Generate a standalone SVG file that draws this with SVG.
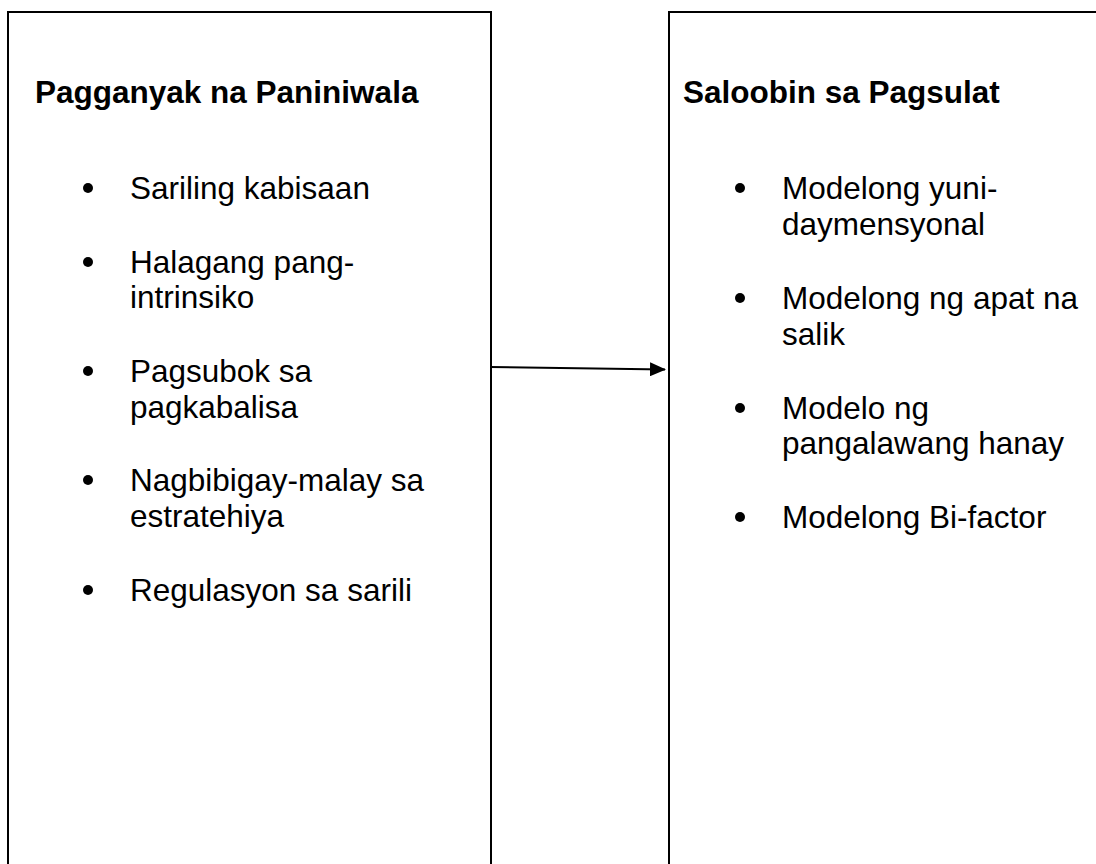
<svg xmlns="http://www.w3.org/2000/svg" width="1096" height="864" viewBox="0 0 1096 864">
<style>
.box{fill:#fff;stroke:#000;stroke-width:2}
.t{font-family:"Liberation Sans",Arial,sans-serif;font-size:31.5px;fill:#000}
.h{font-weight:bold}
.conn{stroke:#000;stroke-width:2;fill:none}
</style>
<defs>
<marker id="arr" markerWidth="16" markerHeight="14" refX="15" refY="7" orient="auto" markerUnits="userSpaceOnUse">
<path d="M0,0 L16,7 L0,14 Z" fill="#000"/>
</marker>
</defs>
<rect width="1096" height="864" fill="#fff"/>
<g id="node-left">
<rect class="box" x="8" y="12" width="483" height="870"/>
<text class="t h" x="35" y="103">Pagganyak na Paniniwala</text>
<g class="t">
<circle cx="88" cy="188" r="5"/>
<text x="130" y="199">Sariling kabisaan</text>
<circle cx="88" cy="262" r="5"/>
<text x="130" y="273">Halagang pang-</text>
<text x="130" y="308">intrinsiko</text>
<circle cx="88" cy="371" r="5"/>
<text x="130" y="382">Pagsubok sa</text>
<text x="130" y="418">pagkabalisa</text>
<circle cx="88" cy="480" r="5"/>
<text x="130" y="491">Nagbibigay-malay sa</text>
<text x="130" y="527">estratehiya</text>
<circle cx="88" cy="590" r="5"/>
<text x="130" y="601">Regulasyon sa sarili</text>
</g>
</g>
<g id="node-right">
<rect class="box" x="669" y="12" width="460" height="870"/>
<text class="t h" x="683" y="103">Saloobin sa Pagsulat</text>
<g class="t">
<circle cx="740" cy="188" r="5"/>
<text x="782" y="199">Modelong yuni-</text>
<text x="782" y="235">daymensyonal</text>
<circle cx="740" cy="298" r="5"/>
<text x="782" y="309">Modelong ng apat na</text>
<text x="782" y="345">salik</text>
<circle cx="740" cy="408" r="5"/>
<text x="782" y="419">Modelo ng</text>
<text x="782" y="454">pangalawang hanay</text>
<circle cx="740" cy="517" r="5"/>
<text x="782" y="528">Modelong Bi-factor</text>
</g>
</g>
<g id="connectors">
<line class="conn" x1="490" y1="367" x2="665" y2="369.5" marker-end="url(#arr)"/>
</g>
</svg>
